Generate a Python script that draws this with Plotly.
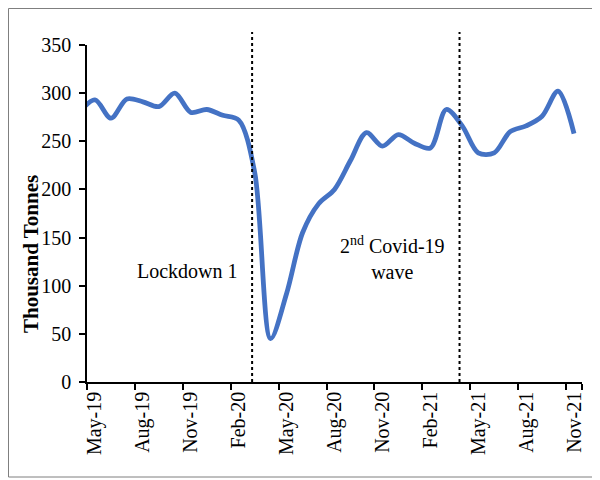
import plotly.graph_objects as go

# Monthly categories (Apr-19 lies just left of the visible axis start and is clipped)
months = ["Apr-19", "May-19", "Jun-19", "Jul-19", "Aug-19", "Sep-19", "Oct-19", "Nov-19",
          "Dec-19", "Jan-20", "Feb-20", "Mar-20", "Apr-20", "May-20", "Jun-20", "Jul-20",
          "Aug-20", "Sep-20", "Oct-20", "Nov-20", "Dec-20", "Jan-21", "Feb-21", "Mar-21",
          "Apr-21", "May-21", "Jun-21", "Jul-21", "Aug-21", "Sep-21", "Oct-21", "Nov-21"]
tonnes = [280, 293, 274, 294, 291, 286, 300, 280,
          283, 277, 272, 218, 45, 92, 155, 185,
          200, 230, 259, 245, 257, 248, 243, 283,
          266, 238, 238, 260, 266, 276, 302, 258]
tick_labels = ["May-19", "Aug-19", "Nov-19", "Feb-20", "May-20", "Aug-20",
               "Nov-20", "Feb-21", "May-21", "Aug-21", "Nov-21"]
y_ticks = [0, 50, 100, 150, 200, 250, 300, 350]
event_positions = [10.84, 23.83]

FONT = "Times New Roman, Liberation Serif, serif"
OFF = 8  # page body margin
W, H = 600 - OFF, 480 - OFF
L, T = 87 - OFF, 45 - OFF
R = W - (582 - OFF)
B = H - (382 - OFF)
pw, ph = W - L - R, H - T - B

def px2x(px):  # page pixel -> paper x
    return (px - OFF - L) / pw

def py2y(py):  # page pixel -> paper y
    return ((382 - py)) / ph

fig = go.Figure()
fig.add_trace(go.Scatter(
    x=months, y=tonnes, mode="lines",
    line=dict(color="#4472C4", width=4.8, shape="spline", smoothing=0.9),
    hoverinfo="x+y", showlegend=False,
))

shapes = []
for xp in event_positions:
    shapes.append(dict(type="line", xref="x", yref="paper", x0=xp, x1=xp,
                       y0=0, y1=py2y(32), line=dict(color="black", width=2, dash="dot")))
shapes.append(dict(type="rect", xref="paper", yref="paper",
                   x0=px2x(8.5), x1=px2x(596), y0=py2y(477), y1=py2y(8.5),
                   line=dict(color="#7f7f7f", width=1), layer="below"))

fig.update_layout(
    width=W, height=H,
    margin=dict(l=L, r=R, t=T, b=B),
    paper_bgcolor="white", plot_bgcolor="white",
    font=dict(family=FONT, size=20, color="black"),
    shapes=shapes,
    xaxis=dict(
        type="category", categoryorder="array", categoryarray=months,
        range=[0.5, 31.5], tickmode="array", tickvals=tick_labels, ticktext=tick_labels,
        tickson="boundaries", tickangle=-90, ticks="outside", ticklen=6, tickwidth=1.5,
        tickcolor="black", showline=True, linecolor="black", linewidth=1.5,
        showgrid=False, zeroline=False, tickfont=dict(family=FONT, size=20),
    ),
    yaxis=dict(
        range=[0, 350], tickvals=y_ticks, ticks="outside", ticklen=6, tickwidth=1.5,
        tickcolor="black", showline=True, linecolor="black", linewidth=1.5,
        showgrid=False, zeroline=False, tickfont=dict(family=FONT, size=20),
        ticklabelstandoff=4,
    ),
    annotations=[
        dict(text="<b>Thousand Tonnes</b>", xref="paper", yref="paper",
             x=px2x(31), y=py2y(254), textangle=-90, showarrow=False,
             font=dict(family=FONT, size=21), xanchor="center", yanchor="middle"),
        dict(text="Lockdown 1", xref="paper", yref="paper",
             x=px2x(187), y=py2y(271), showarrow=False,
             font=dict(family=FONT, size=20), xanchor="center", yanchor="middle"),
        dict(text="2<sup>nd</sup> Covid-19<br>wave", xref="paper", yref="paper",
             x=px2x(392), y=py2y(258), showarrow=False,
             font=dict(family=FONT, size=20), xanchor="center", yanchor="middle"),
    ],
)

fig.write_html("out.html")
